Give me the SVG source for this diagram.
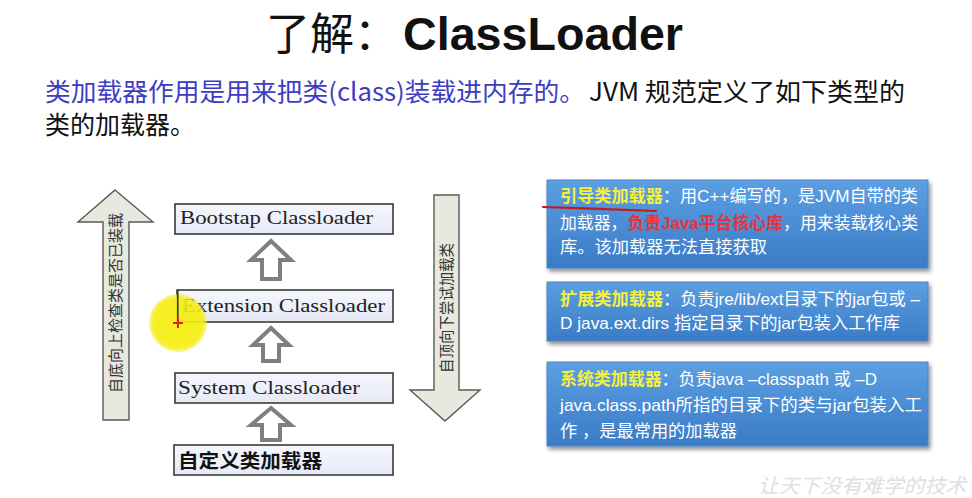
<svg xmlns="http://www.w3.org/2000/svg" width="972" height="498" viewBox="0 0 972 498">
  <defs>
    <linearGradient id="blueFill" x1="0" y1="0" x2="0" y2="1">
      <stop offset="0" stop-color="#5c9fe2"/>
      <stop offset="1" stop-color="#3a7bc6"/>
    </linearGradient>
    <linearGradient id="loaderFill" x1="0" y1="0" x2="0" y2="1">
      <stop offset="0" stop-color="#f6f7fd"/>
      <stop offset="1" stop-color="#e6e9f6"/>
    </linearGradient>
    <radialGradient id="spot" cx="0.5" cy="0.5" r="0.5">
      <stop offset="0" stop-color="#f4ee00"/>
      <stop offset="0.85" stop-color="#f4ee10"/>
      <stop offset="1" stop-color="#f4ee40" stop-opacity="0.6"/>
    </radialGradient>
    <filter id="shadow" x="-5%" y="-10%" width="112%" height="130%">
      <feGaussianBlur in="SourceAlpha" stdDeviation="2"/>
      <feOffset dx="2" dy="3"/>
      <feComponentTransfer><feFuncA type="linear" slope="0.45"/></feComponentTransfer>
      <feMerge><feMergeNode/><feMergeNode in="SourceGraphic"/></feMerge>
    </filter>
  </defs>
  <style>
    .cjk { font-family: "Noto Sans CJK SC", sans-serif; }
    .loader { fill: url(#loaderFill); stroke: #3a3a3a; stroke-width: 1.6; }
    .loaderText { font-family: "Liberation Serif", "Noto Sans CJK SC", serif; font-size: 18px; fill: #222; }
    .hollow { fill: #ffffff; stroke: #7f7f7f; stroke-width: 4; stroke-linejoin: miter; }
    .bigArrow { fill: #e7e9de; stroke: #5a5a5a; stroke-width: 1.4; }
    .sideText { font-family: "Noto Sans CJK SC", serif; font-size: 15px; fill: #333; }
    .card { fill: url(#blueFill); stroke: #4d86c4; stroke-width: 1; filter: url(#shadow); }
    .cardText { font-family: "Liberation Sans", "Noto Sans CJK SC", sans-serif; font-size: 17px; fill: #ffffff; }
    .key { fill: #f6f03a; font-weight: bold; }
    .hot { fill: #e8333a; font-weight: bold; }
  </style>

  <rect width="972" height="498" fill="#ffffff"/>

  <!-- heading -->
  <g id="title">
    <text x="266" y="50" class="cjk" font-size="44" fill="#111">了解：</text>
    <text x="403" y="50" font-family="Liberation Sans, Arial, sans-serif" font-weight="bold" font-size="47" fill="#111" textLength="280" lengthAdjust="spacingAndGlyphs">ClassLoader</text>
  </g>

  <g id="intro" class="cjk" font-size="25">
    <text x="45" y="101" fill="#3d3dc4" textLength="540" lengthAdjust="spacingAndGlyphs">类加载器作用是用来把类(class)装载进内存的。</text>
    <text x="589" y="101" fill="#111" textLength="316" lengthAdjust="spacingAndGlyphs">JVM 规范定义了如下类型的</text>
    <text x="45" y="134" fill="#111">类的加载器。</text>
  </g>

  <!-- side arrows -->
  <g id="bottomUp">
    <path class="bigArrow" d="M115,190 L153,222 L129,222 L129,420 L103,420 L103,222 L78,222 Z"/>
    <text class="sideText" transform="translate(121,303) rotate(-90)" text-anchor="middle" textLength="180" lengthAdjust="spacingAndGlyphs">自底向上检查类是否已装载</text>
  </g>
  <g id="topDown">
    <path class="bigArrow" d="M434,195 L459,195 L459,390 L480,390 L445,421 L410,390 L434,390 Z"/>
    <text class="sideText" transform="translate(452,308) rotate(-90)" text-anchor="middle" textLength="130" lengthAdjust="spacingAndGlyphs">自顶向下尝试加载类</text>
  </g>

  <!-- loader hierarchy -->
  <g id="bootstrap">
    <rect class="loader" x="175" y="204" width="218" height="30"/>
    <text class="loaderText" x="180" y="224" textLength="193" lengthAdjust="spacingAndGlyphs">Bootstap Classloader</text>
  </g>
  <g id="extension">
    <rect class="loader" x="177" y="290" width="216" height="32"/>
    <text class="loaderText" x="182" y="312" textLength="203" lengthAdjust="spacingAndGlyphs">Extension Classloader</text>
  </g>
  <g id="system">
    <rect class="loader" x="175" y="373" width="218" height="30"/>
    <text class="loaderText" x="178" y="394" textLength="182" lengthAdjust="spacingAndGlyphs">System Classloader</text>
  </g>
  <g id="custom">
    <rect class="loader" x="174" y="445" width="219" height="30"/>
    <text x="178" y="468" class="cjk" font-size="19" font-weight="bold" fill="#111" textLength="144" lengthAdjust="spacingAndGlyphs">自定义类加载器</text>
  </g>

  <g id="connectors">
    <path class="hollow" d="M271,241 L291,260 L280,260 L280,279 L262,279 L262,260 L251,260 Z"/>
    <path class="hollow" d="M271,328 L289,345 L279,345 L279,361 L263,361 L263,345 L253,345 Z"/>
    <path class="hollow" d="M271,408 L291,425 L280,425 L280,440 L262,440 L262,425 L251,425 Z"/>
  </g>

  <!-- pointer highlight -->
  <g id="pointer">
    <circle cx="178" cy="323" r="29" fill="url(#spot)" opacity="0.9"/>
    <rect x="177" y="290" width="1.6" height="33" fill="#3a3a3a"/>
    <path d="M173,323 H183 M178,318 V328" stroke="#e02020" stroke-width="2"/>
  </g>

  <!-- description cards -->
  <g id="bootstrapCard">
    <rect class="card" x="547" y="180" width="381" height="88"/>
    <text class="cardText" x="560" y="202" textLength="358" lengthAdjust="spacingAndGlyphs"><tspan class="key">引导类加载器</tspan>：用C++编写的，是JVM自带的类</text>
    <text class="cardText" x="560" y="229" textLength="358" lengthAdjust="spacingAndGlyphs">加载器，<tspan class="hot">负责Java平台核心库</tspan>，用来装载核心类</text>
    <text class="cardText" x="560" y="253" textLength="207" lengthAdjust="spacingAndGlyphs">库。该加载器无法直接获取</text>
    <path d="M543,207 C580,208 620,210 656,211" fill="none" stroke="#c41a1a" stroke-width="2.2" stroke-linecap="round"/>
  </g>
  <g id="extensionCard">
    <rect class="card" x="547" y="282" width="381" height="59"/>
    <text class="cardText" x="560" y="305" textLength="360" lengthAdjust="spacingAndGlyphs"><tspan class="key">扩展类加载器</tspan>：负责jre/lib/ext目录下的jar包或 –</text>
    <text class="cardText" x="560" y="329" textLength="340" lengthAdjust="spacingAndGlyphs">D java.ext.dirs 指定目录下的jar包装入工作库</text>
  </g>
  <g id="systemCard">
    <rect class="card" x="547" y="362" width="381" height="84"/>
    <text class="cardText" x="560" y="385" textLength="317" lengthAdjust="spacingAndGlyphs"><tspan class="key">系统类加载器</tspan>：负责java –classpath 或 –D</text>
    <text class="cardText" x="560" y="411" textLength="362" lengthAdjust="spacingAndGlyphs">java.class.path所指的目录下的类与jar包装入工</text>
    <text class="cardText" x="560" y="437" textLength="177" lengthAdjust="spacingAndGlyphs">作 ，是最常用的加载器</text>
  </g>

  <!-- faint footer mark -->
  <text x="758" y="493" class="cjk" font-size="20" font-style="italic" fill="#e0e0e0" textLength="208" lengthAdjust="spacingAndGlyphs">让天下没有难学的技术</text>
</svg>
